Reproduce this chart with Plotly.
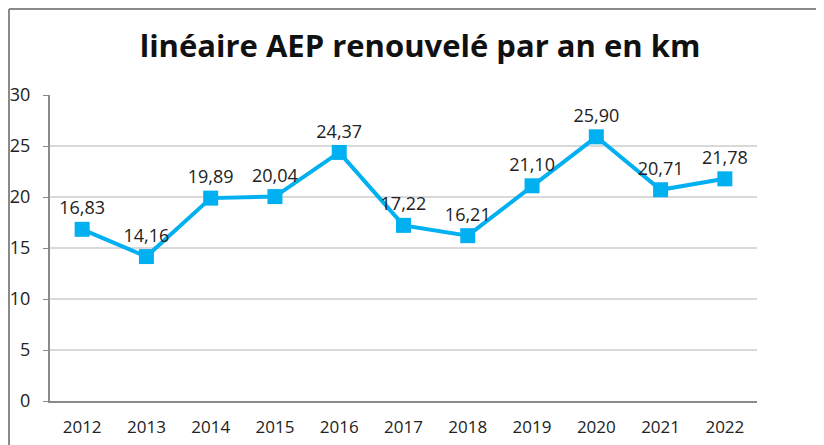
import plotly.graph_objects as go

# Data
years = ['2012', '2013', '2014', '2015', '2016', '2017', '2018', '2019', '2020', '2021', '2022']
km_renouveles = [16.83, 14.16, 19.89, 20.04, 24.37, 17.22, 16.21, 21.10, 25.90, 20.71, 21.78]
labels = [f'{v:.2f}'.replace('.', ',') for v in km_renouveles]

fig = go.Figure()

fig.add_trace(go.Scatter(
    x=years, y=km_renouveles,
    mode='lines+markers+text',
    line=dict(color='#00B0F0', width=4),
    marker=dict(symbol='square', size=15, color='#00B0F0'),
    text=labels, textposition='top center',
    textfont=dict(family='Open Sans', size=18, color='#222222'),
    cliponaxis=False,
    showlegend=False,
))

# Outer chart border (top and left, the rest is cropped in the picture)
fig.add_shape(type='line', xref='paper', yref='paper', x0=-0.058, x1=1.2, y0=1.281, y1=1.281,
              line=dict(color='#8a8a8a', width=2))
fig.add_shape(type='line', xref='paper', yref='paper', x0=-0.058, x1=-0.058, y0=-0.2, y1=1.281,
              line=dict(color='#8a8a8a', width=2))

fig.update_layout(
    width=824, height=445,
    margin=dict(l=42, r=75, t=87, b=52),
    paper_bgcolor='white',
    plot_bgcolor='white',
    title=dict(text='<b>linéaire AEP renouvelé par an en km</b>', x=0.5, xanchor='center',
               y=0.915, yanchor='middle',
               font=dict(family='Open Sans', size=31, color='#111111')),
    xaxis=dict(range=[-0.5, len(years) - 0.5], showgrid=False, showline=True,
               linecolor='#8a8a8a', linewidth=2, automargin=False,
               ticks='outside', ticklen=10, tickcolor='rgba(0,0,0,0)',
               tickfont=dict(family='Open Sans', size=17, color='#222222')),
    yaxis=dict(range=[0, 30], dtick=5, showgrid=True, gridcolor='#d9d9d9', gridwidth=2,
               zeroline=False, showline=True, linecolor='#8a8a8a', linewidth=2,
               automargin=False,
               ticks='outside', ticklen=5, tickcolor='#8a8a8a', ticklabelstandoff=9,
               tickfont=dict(family='Open Sans', size=18, color='#222222')),
)

fig.write_html('out.html')
